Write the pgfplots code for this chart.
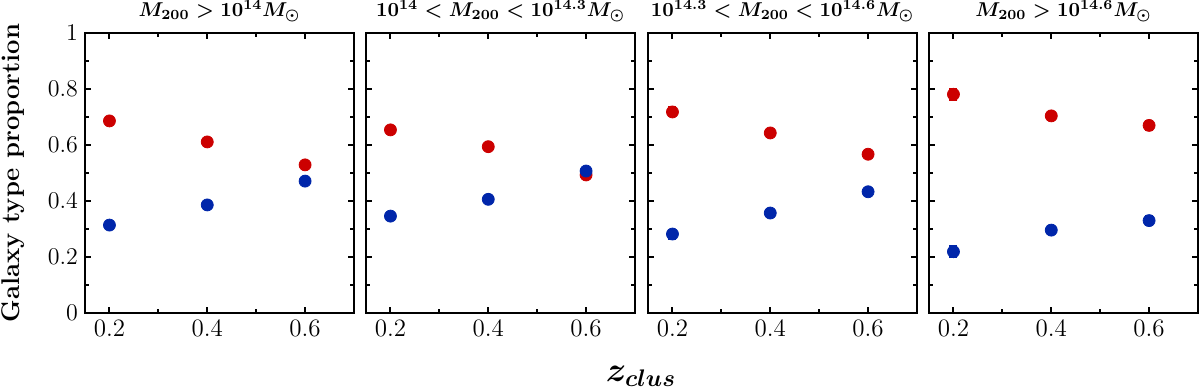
\documentclass[border=0pt]{standalone}
\usepackage{pgfplots}
\pgfplotsset{compat=1.18}

\definecolor{ered}{RGB}{204,0,0}
\definecolor{lblue}{RGB}{0,38,170}

\tikzset{ptitle/.style={font=\fontsize{10.4}{12.5}\selectfont\boldmath, anchor=base, yshift=8pt}}

\pgfplotsset{
  panel/.style={
    scale only axis,
    width=134.5pt, height=140pt,
    xmin=0.15, xmax=0.7, ymin=0, ymax=1,
    xtick={0.2,0.4,0.6},
    xticklabels={0.2,0.4,0.6},
    minor xtick={0.3,0.5},
    ytick={0,0.2,0.4,0.6,0.8,1},
    minor ytick={0.1,0.3,0.5,0.7,0.9},
    tick align=inside,
    tick pos=both,
    major tick length=3pt,
    minor tick length=1.8pt,
    every tick/.style={black, line width=1pt},
    axis line style={line width=1.3pt},
    tick label style={font=\fontsize{12.5}{14}\selectfont},
    clip=false,
  },
  pts/.style={only marks, mark=*, mark size=3pt, #1, mark options={fill=#1, draw=#1},
    error bars/.cd, y dir=both, y explicit,
    error bar style={line width=1.2pt, #1},
    error mark options={rotate=90, mark size=2pt, line width=1pt, #1}},
}

\begin{document}
\begin{tikzpicture}
\path[use as bounding box] (-42.5pt,-38pt) rectangle (557.5pt,156.5pt);

\begin{axis}[panel, at={(0pt,0pt)}]
  \addplot+[pts=ered] coordinates {(0.2,0.686) +- (0,0.008) (0.4,0.611) +- (0,0.008) (0.6,0.529) +- (0,0.010)};
  \addplot+[pts=lblue] coordinates {(0.2,0.314) +- (0,0.008) (0.4,0.386) +- (0,0.008) (0.6,0.471) +- (0,0.010)};
  \node[ptitle] at (rel axis cs:0.5,1) {$M_{200} > 10^{14} M_\odot$};
\end{axis}

\begin{axis}[panel, at={(140.5pt,0pt)}, yticklabels={}]
  \addplot+[pts=ered] coordinates {(0.2,0.654) +- (0,0.010) (0.4,0.594) +- (0,0.010) (0.6,0.493) +- (0,0.012)};
  \addplot+[pts=lblue] coordinates {(0.2,0.346) +- (0,0.010) (0.4,0.406) +- (0,0.010) (0.6,0.507) +- (0,0.012)};
  \node[ptitle] at (rel axis cs:0.5,1) {$10^{14} < M_{200} < 10^{14.3} M_\odot$};
\end{axis}

\begin{axis}[panel, at={(281.5pt,0pt)}, yticklabels={}]
  \addplot+[pts=ered] coordinates {(0.2,0.718) +- (0,0.016) (0.4,0.643) +- (0,0.010) (0.6,0.567) +- (0,0.010)};
  \addplot+[pts=lblue] coordinates {(0.2,0.282) +- (0,0.016) (0.4,0.357) +- (0,0.010) (0.6,0.433) +- (0,0.010)};
  \node[ptitle] at (rel axis cs:0.5,1) {$10^{14.3} < M_{200} < 10^{14.6} M_\odot$};
\end{axis}

\begin{axis}[panel, at={(422pt,0pt)}, yticklabels={}]
  \addplot+[pts=ered] coordinates {(0.2,0.781) +- (0,0.020) (0.4,0.704) +- (0,0.015) (0.6,0.670) +- (0,0.015)};
  \addplot+[pts=lblue] coordinates {(0.2,0.219) +- (0,0.020) (0.4,0.296) +- (0,0.015) (0.6,0.330) +- (0,0.015)};
  \node[ptitle] at (rel axis cs:0.5,1) {$M_{200} > 10^{14.6} M_\odot$};
\end{axis}

\node[rotate=90, font=\fontsize{12.8}{15}\selectfont\bfseries] at (-36pt,70pt) {Galaxy type proportion};
\node[font=\LARGE\boldmath] at (278pt,-31.5pt) {$z_{clus}$};
\end{tikzpicture}
\end{document}
